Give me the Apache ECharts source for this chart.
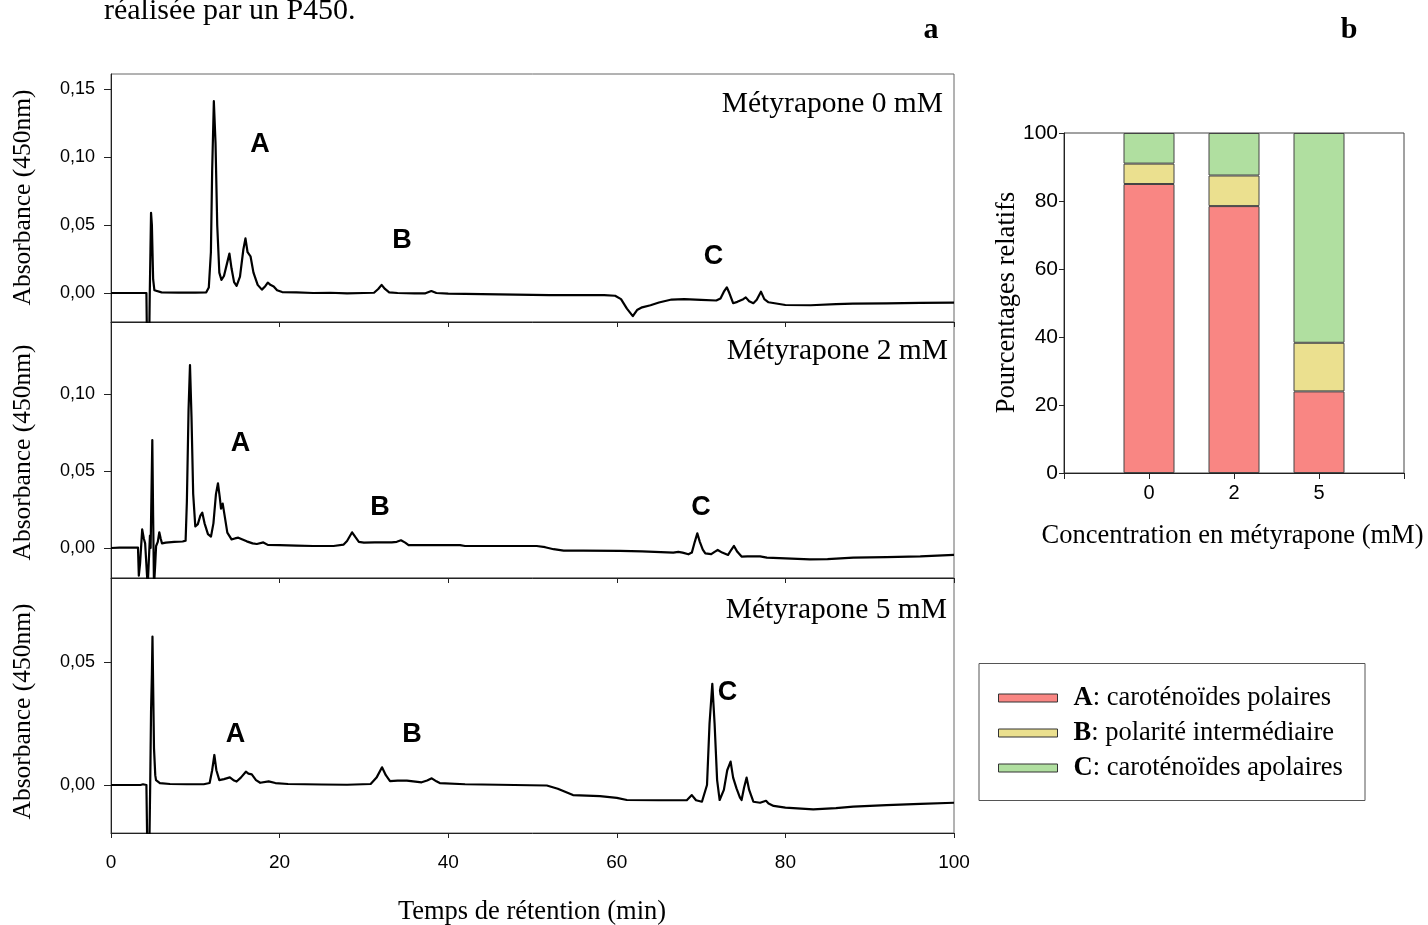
<!DOCTYPE html>
<html><head><meta charset="utf-8">
<script src="https://cdn.jsdelivr.net/npm/echarts@6/dist/echarts.min.js"></script>
<style>html,body{margin:0;padding:0;background:#fff}#c{width:1428px;height:925px}</style>
</head><body><div id="c"></div>
<script>
// ---- Chromatogram data: [retention time (min), absorbance 450nm] ----
const chrom0 = [[0,0],[4.2,0],[4.25,-0.025],[4.55,-0.025],[4.6,0.0],[4.75,0.059],[4.85,0.05],[5.0,0.01],[5.15,0.002],[6,0.0005],[8,0.0003],[10,0.0003],[11.3,0.0005],[11.6,0.004],[11.85,0.03],[12.0,0.09],[12.2,0.141],[12.4,0.11],[12.6,0.05],[12.85,0.015],[13.1,0.0096],[13.4,0.0125],[13.6,0.012],[13.85,0.024],[14.05,0.029],[14.3,0.018],[14.6,0.008],[14.9,0.0052],[15.3,0.012],[15.7,0.032],[15.95,0.0402],[16.2,0.03],[16.55,0.027],[16.9,0.015],[17.4,0.006],[17.9,0.0025],[18.3,0.005],[18.6,0.0077],[18.9,0.006],[19.3,0.0048],[19.7,0.002],[20.3,0.0007],[22,0.0005],[24,0.0],[26,0.0002],[28,-0.0003],[30,0],[31.2,0.0002],[31.7,0.003],[32.1,0.006],[32.5,0.003],[33,0.0005],[34,0],[36,-0.0003],[37.3,-0.0002],[38.0,0.0015],[38.6,0],[40,-0.0005],[44,-0.0008],[48,-0.0012],[52,-0.0015],[56,-0.0015],[58.5,-0.0015],[59.8,-0.002],[60.5,-0.0045],[61.2,-0.0115],[61.9,-0.017],[62.4,-0.0125],[63,-0.0105],[64,-0.009],[65,-0.007],[66.5,-0.0048],[68,-0.0045],[70,-0.005],[71.8,-0.0055],[72.3,-0.004],[72.7,0.001],[73.05,0.0042],[73.35,0.0],[73.8,-0.0075],[74.3,-0.0065],[75.0,-0.0045],[75.3,-0.0032],[75.7,-0.006],[76.2,-0.0075],[76.6,-0.005],[77.1,0.001],[77.5,-0.0045],[78.0,-0.0068],[80,-0.0088],[83,-0.009],[86,-0.0082],[88,-0.0078],[92,-0.0076],[96,-0.0073],[100,-0.007]];
const chrom2 = [[0,0],[1,0.0002],[3.2,0.0003],[3.3,-0.018],[3.45,-0.010],[3.7,0.0121],[3.9,0.006],[4.05,0.003],[4.2,0.0042],[4.35,-0.025],[4.5,-0.025],[4.62,0.008],[4.7,0.0],[4.9,0.0701],[5.0,0.02],[5.1,-0.025],[5.25,-0.01],[5.35,0.0013],[5.55,0.004],[5.73,0.0102],[5.9,0.006],[6.05,0.003],[6.5,0.0035],[7.5,0.004],[8.5,0.0042],[8.85,0.0048],[9.0,0.03],[9.2,0.09],[9.37,0.1188],[9.55,0.085],[9.75,0.035],[10.0,0.014],[10.3,0.0155],[10.6,0.021],[10.83,0.0229],[11.1,0.016],[11.5,0.009],[11.86,0.0074],[12.15,0.016],[12.45,0.035],[12.69,0.042],[12.9,0.033],[13.05,0.0255],[13.25,0.0288],[13.45,0.022],[13.8,0.01],[14.3,0.0056],[14.7,0.0062],[15.1,0.0067],[15.6,0.0055],[16.1,0.0043],[16.8,0.003],[17.3,0.0026],[18.07,0.0036],[18.6,0.002],[20,0.0019],[22,0.0015],[24,0.0013],[26.4,0.0013],[27.6,0.0022],[28.0,0.0045],[28.6,0.0102],[29.0,0.007],[29.4,0.004],[30,0.0035],[31.3,0.0036],[33.3,0.0036],[33.9,0.004],[34.4,0.005],[34.9,0.0035],[35.3,0.0019],[38,0.0019],[41.4,0.0019],[42,0.0013],[46,0.0013],[49.7,0.0013],[50.5,0.0013],[51.5,0.0005],[52.5,-0.0008],[53.7,-0.0017],[56,-0.0017],[60.4,-0.0019],[63,-0.0022],[66.7,-0.003],[67.3,-0.0025],[67.8,-0.003],[68.5,-0.0041],[68.9,-0.003],[69.25,0.004],[69.55,0.0095],[69.85,0.004],[70.2,-0.001],[70.5,-0.0035],[71.2,-0.004],[71.6,-0.0025],[71.97,-0.0013],[72.5,-0.003],[73.2,-0.0045],[73.6,-0.001],[73.9,0.0013],[74.3,-0.0025],[74.8,-0.0056],[75.5,-0.0054],[76.4,-0.0055],[77.0,-0.0055],[77.8,-0.0063],[80,-0.0068],[82.9,-0.0074],[85,-0.0072],[88.05,-0.0063],[92,-0.006],[96,-0.0055],[100,-0.0045]];
const chrom5 = [[0,0],[3.5,0],[3.8,0.0003],[4.2,0],[4.3,-0.025],[4.55,-0.025],[4.65,0.0],[4.75,0.03],[4.85,0.045],[4.92,0.0603],[5.0,0.04],[5.1,0.015],[5.25,0.004],[5.34,0.002],[5.8,0.0008],[7,0.0004],[9,0.0003],[11,0.0003],[11.7,0.0008],[12.0,0.006],[12.26,0.0122],[12.5,0.006],[12.85,0.002],[13.4,0.0024],[14.1,0.0031],[14.6,0.0018],[14.9,0.0014],[15.4,0.003],[16.0,0.0054],[16.3,0.0046],[16.7,0.0043],[17.2,0.002],[17.7,0.0009],[18.7,0.0015],[19.5,0.0008],[21,0.0004],[25,0.0002],[28,0.0001],[30.8,0.0004],[31.5,0.003],[32.15,0.0072],[32.6,0.004],[33.1,0.0016],[34,0.0018],[35.1,0.0018],[36.85,0.0011],[37.5,0.0018],[38.05,0.0027],[38.6,0.0015],[39.0,0.0008],[42,0.0003],[46,0.0001],[49.7,-0.0001],[51.7,-0.0002],[53,-0.0015],[54.8,-0.0041],[58,-0.0045],[60,-0.0052],[61.2,-0.0061],[65,-0.0062],[68.3,-0.0062],[68.9,-0.0041],[69.4,-0.0062],[70.1,-0.0068],[70.7,0.0],[71.0,0.025],[71.33,0.0411],[71.6,0.025],[71.9,0.002],[72.2,-0.0061],[72.7,-0.002],[73.1,0.006],[73.5,0.0095],[73.8,0.003],[74.2,-0.0014],[74.6,-0.005],[74.8,-0.0061],[75.1,-0.001],[75.4,0.003],[75.7,-0.002],[76.2,-0.0068],[77.0,-0.0072],[77.7,-0.0064],[78.0,-0.0075],[78.6,-0.0085],[80,-0.0092],[83.3,-0.0099],[86,-0.0094],[88.05,-0.0088],[92,-0.0082],[96,-0.0077],[100,-0.0072]];

const panelNames = ['Métyrapone 0 mM', 'Métyrapone 2 mM', 'Métyrapone 5 mM'];
const yTicks0 = [0, 0.05, 0.10, 0.15];
const yTicks2 = [0, 0.05, 0.10];
const yTicks5 = [0, 0.05];
const peakLetters = ['A', 'B', 'C'];

// ---- Stacked bar data (relative percentages) ----
const concCategories = ['', '0', '2', '5', ''];
const pctA = ['-', 85, 78.5, 24, '-'];
const pctB = ['-', 6, 9, 14.3, '-'];
const pctC = ['-', 9, 12.5, 61.7, '-'];
const groupNames = ['A: caroténoïdes polaires', 'B: polarité intermédiaire', 'C: caroténoïdes apolaires'];
const groupColors = ['#F98683', '#EBE08F', '#B0DFA0'];

const SERIF = '"Liberation Serif", "Times New Roman", serif';
const SANS = '"Liberation Sans", Arial, sans-serif';

const chart = echarts.init(document.getElementById('c'), null, {renderer: 'canvas'});

const panels = [
  {top: 74, height: 248, min: -0.0213, max: 0.161, ticks: yTicks0, data: chrom0},
  {top: 322, height: 256, min: -0.0195, max: 0.1468, ticks: yTicks2, data: chrom2},
  {top: 578, height: 255, min: -0.0195, max: 0.0841, ticks: yTicks5, data: chrom5}
];

const grids = panels.map(p => ({left: 111, top: p.top, width: 843, height: p.height, show: true, borderColor: '#666', borderWidth: 1, containLabel: false}));
grids.push({left: 1064, top: 133, width: 340, height: 340, show: true, borderColor: '#444', borderWidth: 1});

const xAxes = panels.map((p, i) => ({
  type: 'value', gridIndex: i, min: 0, max: 100, interval: 20,
  axisLine: {show: true, onZero: false, lineStyle: {color: '#222', width: 1}},
  axisTick: {show: true, inside: false, length: 5, lineStyle: {color: '#222'}},
  axisLabel: {show: i === 2, margin: 20, fontSize: 19, fontFamily: SANS, color: '#000'},
  splitLine: {show: false}
}));
xAxes.push({
  type: 'category', gridIndex: 3, data: concCategories, boundaryGap: false,
  axisLine: {show: true, lineStyle: {color: '#222', width: 1}},
  axisTick: {show: true, inside: false, length: 6, interval: 0, lineStyle: {color: '#222'}},
  axisLabel: {interval: 0, margin: 10, fontSize: 20, fontFamily: SANS, color: '#000'},
  splitLine: {show: false}
});

const yAxes = panels.map((p, i) => ({
  type: 'value', gridIndex: i, min: p.min, max: p.max,
  axisLine: {show: true, onZero: false, lineStyle: {color: '#222', width: 1}},
  axisTick: {show: true, inside: false, length: 7, customValues: p.ticks, lineStyle: {color: '#222'}},
  axisLabel: {margin: 16, fontSize: 18, fontFamily: SANS, color: '#000', customValues: p.ticks,
    formatter: v => v.toFixed(2).replace('.', ',')},
  splitLine: {show: false}
}));
yAxes.push({
  type: 'value', gridIndex: 3, min: 0, max: 100, interval: 20,
  axisLine: {show: true, lineStyle: {color: '#222', width: 1}},
  axisTick: {show: true, inside: false, length: 5, lineStyle: {color: '#222'}},
  axisLabel: {margin: 6, fontSize: 21, fontFamily: SANS, color: '#000'},
  splitLine: {show: false}
});

const series = panels.map((p, i) => ({
  type: 'line', name: panelNames[i], xAxisIndex: i, yAxisIndex: i, data: p.data,
  showSymbol: false, symbol: 'none', clip: true, smooth: false,
  lineStyle: {color: '#000', width: 2.2, join: 'round'}, silent: true
}));
[pctA, pctB, pctC].forEach((vals, k) => {
  series.push({
    type: 'bar', name: groupNames[k], xAxisIndex: 3, yAxisIndex: 3, stack: 'pct',
    data: vals, barWidth: 51,
    itemStyle: {color: groupColors[k], borderColor: '#444', borderWidth: 1}
  });
});

function txt(text, x, y, size, opts) {
  opts = opts || {};
  return {
    type: 'text', x: x, y: y, rotation: opts.rot || 0, silent: true,
    style: {text: text, fill: '#000', font: (opts.bold ? 'bold ' : '') + size + 'px ' + (opts.sans ? SANS : SERIF),
      align: opts.align || 'center', verticalAlign: 'middle'}
  };
}

const letterPos = [
  [[260, 144.5], [402, 241], [713.5, 257]],
  [[240.5, 444], [380, 507.5], [701, 508]],
  [[235.5, 734.5], [412, 734.5], [727.5, 692.5]]
];
const panelLabelPos = [[943, 104], [948, 351], [947, 610.5]];
const yTitleY = [197.5, 452.5, 711.5];

const graphics = [
  txt('réalisée par un P450.', 104, 11, 30, {align: 'left'}),
  txt('a', 931, 30, 30, {bold: true}),
  txt('b', 1349, 30, 30, {bold: true}),
  txt('Temps de rétention (min)', 532, 912, 26.5),
  txt('Pourcentages relatifs', 1007, 302.5, 26.5, {rot: Math.PI / 2}),
  txt('Concentration en métyrapone (mM)', 1232.5, 536, 26.5),
  {type: 'rect', shape: {x: 979, y: 663.5, width: 386, height: 137}, style: {fill: 'none', stroke: '#555', lineWidth: 1}, silent: true, z: -1}
];
panels.forEach((p, i) => {
  graphics.push(txt(panelNames[i], panelLabelPos[i][0], panelLabelPos[i][1], 29.5, {align: 'right'}));
  graphics.push(txt('Absorbance (450nm)', 23, yTitleY[i], 25.5, {rot: Math.PI / 2}));
  peakLetters.forEach((L, j) => {
    graphics.push(txt(L, letterPos[i][j][0], letterPos[i][j][1], 27, {bold: true, sans: true}));
  });
});

chart.setOption({
  animation: false,
  backgroundColor: '#fff',
  grid: grids,
  xAxis: xAxes,
  yAxis: yAxes,
  legend: {
    data: groupNames, orient: 'vertical', left: 998, top: 683, padding: 0,
    itemWidth: 59, itemHeight: 8, itemGap: 5, icon: 'rect', selectedMode: false,
    itemStyle: {borderColor: '#333', borderWidth: 1},
    formatter: name => '{b|' + name.charAt(0) + '}' + name.slice(1),
    textStyle: {fontFamily: SERIF, fontSize: 26.5, color: '#000', lineHeight: 30, padding: [0, 0, 0, 11],
      rich: {b: {fontFamily: SERIF, fontSize: 26.5, fontWeight: 'bold', color: '#000', lineHeight: 30}}}
  },
  series: series,
  graphic: graphics
});
</script></body></html>
